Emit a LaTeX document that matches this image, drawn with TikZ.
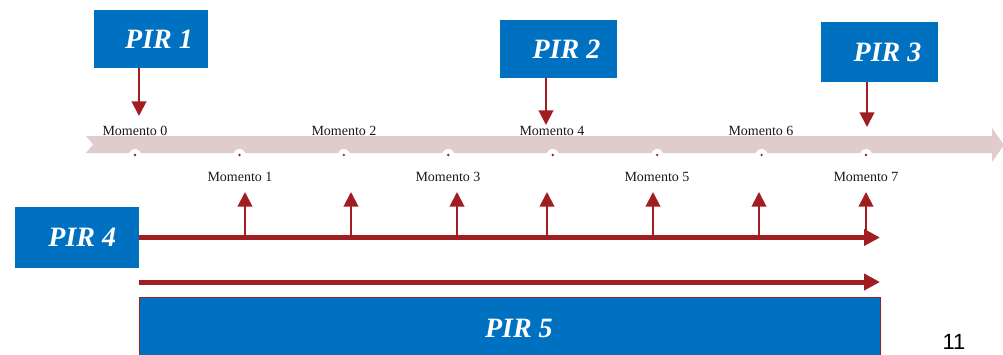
\documentclass[tikz,border=0pt]{standalone}
\usepackage{fontspec}
\setmainfont{Liberation Serif}
\newfontfamily\numfont{Liberation Sans}
\usetikzlibrary{arrows.meta}
\definecolor{pirblue}{RGB}{0,112,192}
\definecolor{darkred}{RGB}{160,30,34}
\definecolor{bandpink}{RGB}{224,204,205}
\tikzset{
  pirbox/.style={fill=pirblue, text=white, inner sep=0pt, font=\fontsize{21}{24}\selectfont\bfseries\itshape},
  lbl/.style={inner sep=0pt, font=\fontsize{10.5}{12}\selectfont, text=black!90},
  thinarrow/.style={draw=darkred, line width=1.5pt, -{Triangle[length=11pt,width=11pt]}},
  thickarrow/.style={draw=darkred, line width=3.75pt, -{Triangle[length=12pt,width=12pt]}},
}
\begin{document}
\begin{tikzpicture}[x=0.75pt,y=-0.75pt]
\useasboundingbox (0,0) rectangle (1003,354);
\clip (0,0) rectangle (1003,354);
% timeline band
\fill[bandpink] (86,136) -- (992,136) -- (992,128) -- (1004,145) -- (992,162) -- (992,153) -- (86,153) -- (93,144.5) -- cycle;
% moment dots
\foreach \i in {0,...,7}{
  \pgfmathsetmacro{\xx}{135+104.43*\i}
  \fill[white] (\xx,155) circle[radius=4.5pt];
  \fill[darkred] (\xx,155) circle[radius=1pt];
  \coordinate (d\i) at (\xx,155);
}
% labels
\node[lbl] (m0) at (135,131) {Momento 0};
\node[lbl] (m1) at (240,177) {Momento 1};
\node[lbl] (m2) at (344,131) {Momento 2};
\node[lbl] (m3) at (448,177) {Momento 3};
\node[lbl] (m4) at (552,131) {Momento 4};
\node[lbl] (m5) at (657,177) {Momento 5};
\node[lbl] (m6) at (761,131) {Momento 6};
\node[lbl] (m7) at (866,177) {Momento 7};
% PIR boxes
\node[pirbox, minimum width=85.5pt, minimum height=43.5pt] (p1) at (151,39) {\hspace*{12pt}PIR 1};
\node[pirbox, minimum width=87.75pt, minimum height=43.5pt] (p2) at (558.5,49) {\hspace*{12pt}PIR 2};
\node[pirbox, minimum width=87.75pt, minimum height=45pt] (p3) at (879.5,52) {\hspace*{12pt}PIR 3};
\node[pirbox, minimum width=93pt, minimum height=45.75pt] (p4) at (77,237.5) {\hspace*{8pt}PIR 4};
\node[pirbox, draw=darkred, line width=0.75pt, minimum width=555.75pt, minimum height=47.25pt] (p5) at (509.5,328.5) {\hspace*{14pt}PIR 5};
% down arrows
\coordinate (a1) at (139,116);
\coordinate (a2) at (546,125);
\coordinate (a3) at (867,127);
\draw[thinarrow] (p1.south -| a1) -- (a1);
\draw[thinarrow] (p2.south -| a2) -- (a2);
\draw[thinarrow] (p3.south -| a3) -- (a3);
% PIR 4 line with up arrows
\coordinate (e4) at (880,237.5);
\foreach \x [count=\k] in {245,351,457,547,653,759,866}{
  \coordinate (ub\k) at (\x,237.5);
  \coordinate (ut\k) at (\x,192);
  \draw[thinarrow] (ub\k) -- (ut\k);
}
\draw[thickarrow] (p4.east) -- (e4);
% PIR 5 line
\coordinate (s5) at (139,282);
\coordinate (e5) at (880,282);
\draw[thickarrow] (s5) -- (e5);
% page number
\node[inner sep=0pt, font=\numfont\fontsize{16.5}{17}\selectfont] (pg) at (954,342) {11};
\end{tikzpicture}
\end{document}
